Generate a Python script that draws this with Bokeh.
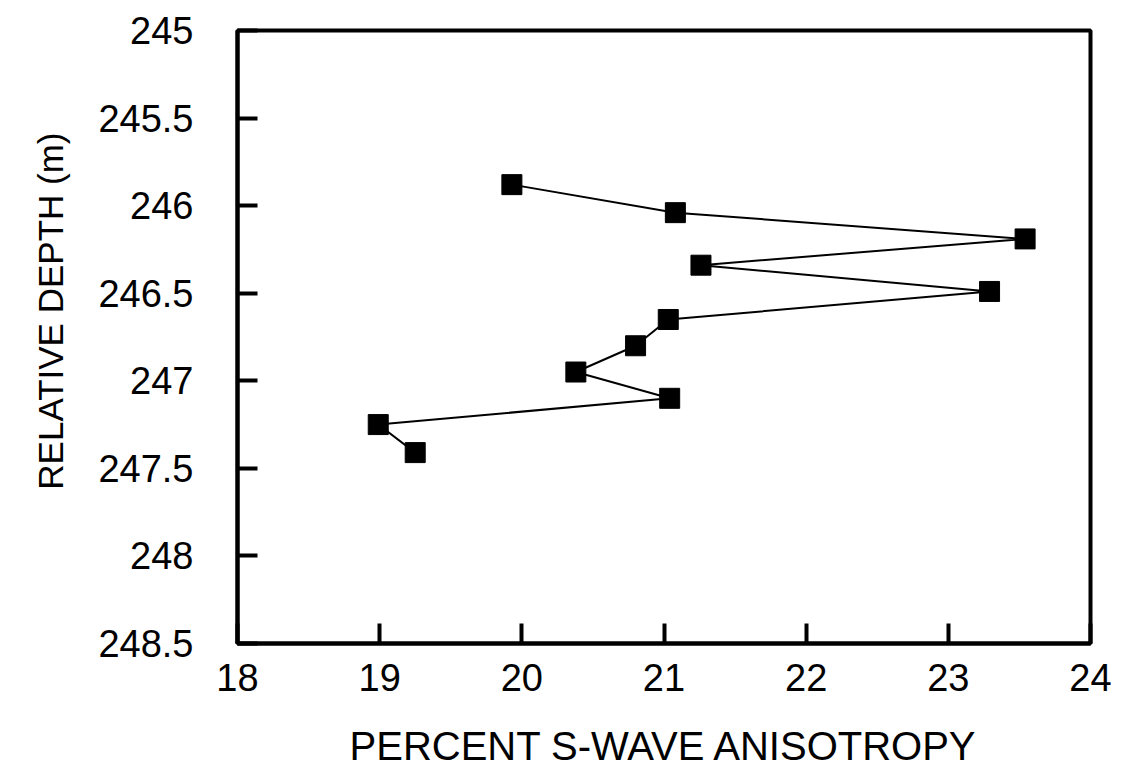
from bokeh.plotting import figure
from bokeh.models import Range1d, FixedTicker, CustomJSTickFormatter, Title
from bokeh.embed import file_html
from bokeh.resources import INLINE

# Data
anisotropy = [19.93, 21.08, 23.54, 21.26, 23.29, 21.03, 20.80, 20.38, 21.04, 18.99, 19.25]
depth = [245.88, 246.04, 246.19, 246.34, 246.49, 246.65, 246.80, 246.95, 247.10, 247.25, 247.41]

x_ticks = [18, 19, 20, 21, 22, 23, 24]
y_ticks = [245, 245.5, 246, 246.5, 247, 247.5, 248, 248.5]

x_title = "PERCENT S-WAVE ANISOTROPY"
y_title = "RELATIVE DEPTH (m)"

FONT = "Liberation Sans"

p = figure(
    width=1123, height=770,
    x_range=Range1d(18, 24), y_range=Range1d(248.5, 245),
    output_backend="svg", toolbar_location=None,
    min_border_left=237, min_border_right=33,
    min_border_top=30, min_border_bottom=127,
    background_fill_color="white", border_fill_color="white",
)

p.line(anisotropy, depth, line_color="black", line_width=2)
p.scatter(anisotropy, depth, marker="square", size=20,
          fill_color="black", line_color="black")

p.xgrid.visible = False
p.ygrid.visible = False
p.outline_line_color = "black"
p.outline_line_width = 4
p.outline_line_alpha = 1

p.xaxis.ticker = FixedTicker(ticks=x_ticks)
p.yaxis.ticker = FixedTicker(ticks=y_ticks)
p.xaxis.formatter = CustomJSTickFormatter(code="return tick.toString();")
p.yaxis.formatter = CustomJSTickFormatter(code="return tick.toString();")

for ax in (p.xaxis[0], p.yaxis[0]):
    ax.axis_line_color = "black"
    ax.axis_line_width = 4
    ax.major_tick_in = 20
    ax.major_tick_out = 0
    ax.major_tick_line_width = 4
    ax.major_tick_line_color = "black"
    ax.minor_tick_line_color = None
    ax.major_label_text_font = FONT
    ax.major_label_text_font_size = "38px"
    ax.major_label_text_color = "black"
    ax.axis_label_text_font = FONT
    ax.axis_label_text_font_style = "normal"
    ax.axis_label_text_color = "black"

p.xaxis.axis_label = x_title
p.xaxis.axis_label_text_font_size = "40px"
p.xaxis.major_label_standoff = 20
p.xaxis.axis_label_standoff = 30

p.yaxis.major_label_standoff = 44

# vertical title as a left-side title (offset from the top of the frame)
ytitle = Title(
    text=y_title, align="right", offset=102, vertical_align="middle",
    standoff=50, text_font=FONT, text_font_size="35px",
    text_font_style="normal", text_color="black",
)
p.add_layout(ytitle, "left")

open("out.html", "w").write(file_html(p, INLINE))
